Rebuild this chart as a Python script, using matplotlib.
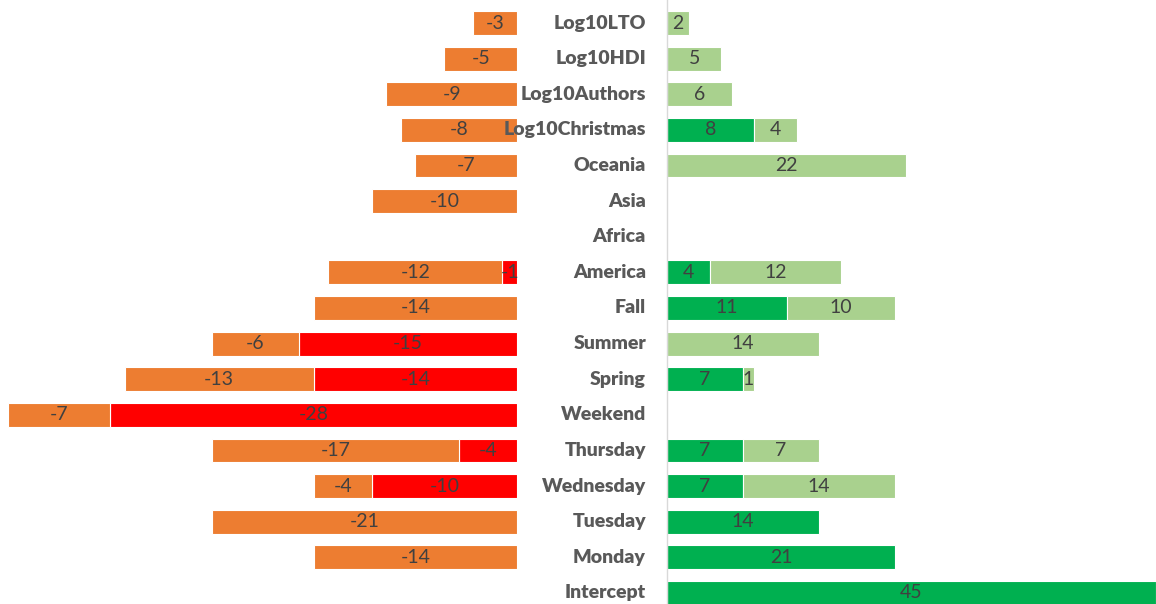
import matplotlib.pyplot as plt

plt.rcParams['font.family'] = ['Lato', 'DejaVu Sans']

categories = ['Log10LTO', 'Log10HDI', 'Log10Authors', 'Log10Christmas', 'Oceania',
              'Asia', 'Africa', 'America', 'Fall', 'Summer', 'Spring', 'Weekend',
              'Thursday', 'Wednesday', 'Tuesday', 'Monday', 'Intercept']
neg_orange = [-3, -5, -9, -8, -7, -10, 0, -12, -14, -6, -13, -7, -17, -4, -21, -14, 0]
neg_red = [0, 0, 0, 0, 0, 0, 0, -1, 0, -15, -14, -28, -4, -10, 0, 0, 0]
pos_dark = [0, 0, 0, 8, 0, 0, 0, 4, 11, 0, 7, 0, 7, 7, 14, 21, 45]
pos_light = [2, 5, 6, 4, 22, 0, 0, 12, 10, 14, 1, 0, 7, 14, 0, 0, 0]

W, H = 1156, 604
fig = plt.figure(figsize=(W / 100, H / 100), dpi=100)
ax_l = fig.add_axes([0, 0, 517 / W, 1])
ax_r = fig.add_axes([667 / W, 0, 489 / W, 1])

txt_col = '#404040'
bar_h = 0.67


def stack(ax, inner, outer, c_in, c_out):
    for i in range(len(categories)):
        base = 0
        for v, c in ((inner[i], c_in), (outer[i], c_out)):
            if v == 0:
                continue
            ax.barh(i, v, left=base, height=bar_h, color=c, edgecolor='white', linewidth=0.8)
            ax.text(base + v / 2, i, str(v), ha='center', va='center',
                    fontsize=14, color=txt_col)
            base += v


stack(ax_l, neg_red, neg_orange, '#FF0000', '#ED7D31')
stack(ax_r, pos_dark, pos_light, '#00B050', '#A9D18E')

ax_l.set_xlim(-35.58, 0)
ax_r.set_xlim(0, 45)
for ax in (ax_l, ax_r):
    ax.set_ylim(16.31, -0.646)
    ax.set_xticks([])
    ax.set_yticks([])
    for s in ax.spines.values():
        s.set_visible(False)
ax_r.spines['left'].set_visible(True)
ax_r.spines['left'].set_color('#D9D9D9')
ax_r.spines['left'].set_linewidth(1)

for i, cat in enumerate(categories):
    ax_r.annotate(cat, xy=(0, i), xycoords=('axes fraction', 'data'),
                  xytext=(-21, 0), textcoords='offset pixels',
                  ha='right', va='center', fontsize=14, fontweight='heavy',
                  color='#595959')

fig.savefig('out.png', dpi=100)
